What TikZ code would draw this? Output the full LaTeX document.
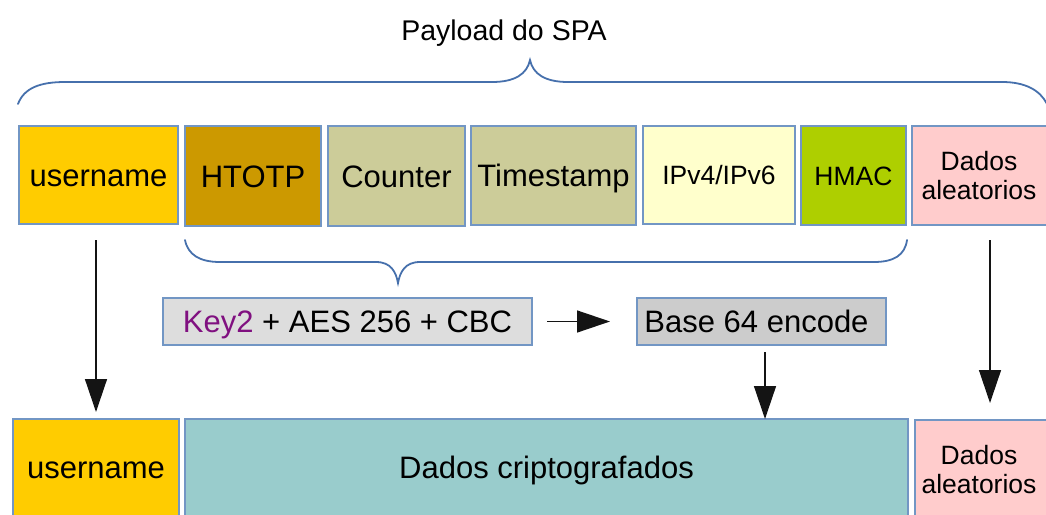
\documentclass[tikz,border=0pt]{standalone}
\usepackage{fontspec}
\setmainfont{Liberation Sans}
\usetikzlibrary{arrows.meta,calc}

\definecolor{cuser}{RGB}{255,204,0}
\definecolor{chotp}{RGB}{204,153,0}
\definecolor{ckhaki}{RGB}{204,204,153}
\definecolor{cip}{RGB}{255,255,204}
\definecolor{chmac}{RGB}{174,207,0}
\definecolor{crand}{RGB}{255,204,204}
\definecolor{ckey}{RGB}{221,221,221}
\definecolor{cb64}{RGB}{204,204,204}
\definecolor{ccrypt}{RGB}{153,204,204}
\definecolor{cborder}{RGB}{114,150,196}
\definecolor{cbrace}{RGB}{70,112,172}
\definecolor{keypurple}{RGB}{128,16,128}
\definecolor{carrow}{RGB}{20,20,20}

\begin{document}
\begin{tikzpicture}[x=1pt,y=-1pt,
  field/.style={draw=cborder,line width=1.3pt,inner sep=0pt,outer sep=0pt,
    align=center,font=\fontsize{31}{34}\selectfont},
  oneline/.style={text height=22.2pt,text depth=0pt},
  smalloneline/.style={text height=19pt,text depth=0pt},
  smallfield/.style={field,font=\fontsize{26.5}{29}\selectfont},
  brace/.style={draw=cbrace,line width=1.8pt,line cap=round},
  arr/.style={draw=carrow,line width=1.4pt,-{Triangle[length=33pt,width=22pt]}}]

\useasboundingbox (0,0) rectangle (1046,514);

% title and the brace over the whole payload
\node[font=\fontsize{28.5}{31}\selectfont,text height=20.4pt,text depth=0pt] (title) at (504,30) {Payload do SPA};
\draw[brace] (18,104) .. controls (24,88) and (40,82) .. (65,82) -- (492,82)
  .. controls (515,82) and (527,74) .. (530,60)
  .. controls (533,74) and (545,82) .. (568,82) -- (1002,82)
  .. controls (1025,82) and (1040,90) .. (1047,104);

% fields of the payload
\node[field,oneline,fill=cuser,minimum width=159pt,minimum height=98pt] (u1) at (98.5,175) {username};
\node[field,oneline,fill=chotp,minimum width=136pt,minimum height=100pt] (htotp) at (253,176) {HTOTP};
\node[field,oneline,fill=ckhaki,minimum width=137pt,minimum height=100pt] (ctr) at (396.5,176) {Counter};
\node[field,oneline,fill=ckhaki,minimum width=165pt,minimum height=99pt] (ts) at (553.5,175.5) {Timestamp};
\node[smallfield,smalloneline,fill=cip,minimum width=152pt,minimum height=98pt] (ip) at (719,175) {IPv4/IPv6};
\node[smallfield,smalloneline,fill=chmac,minimum width=105pt,minimum height=99pt] (hmac) at (853.5,175.5) {HMAC};
\node[smallfield,fill=crand,minimum width=140pt,minimum height=99pt,text width=134pt] (d1) at (982,175.5) {\hspace*{-6pt}Dados\\\hspace*{-6pt}aleatorios};

% brace under the encrypted fields
\draw[brace] (185,240) .. controls (188,255) and (200,262) .. (220,262) -- (376,262)
  .. controls (391,262) and (396,272) .. (398,283)
  .. controls (400,272) and (405,262) .. (420,262) -- (874,262)
  .. controls (894,262) and (905,255) .. (907,240);

% processing steps
\node[field,oneline,fill=ckey,minimum width=369pt,minimum height=47pt] (key) at (347.5,321.5)
  {{\color{keypurple}Key2} + AES 256 + CBC};
\node[field,oneline,fill=cb64,minimum width=249pt,minimum height=47pt] (b64) at (761.5,321.5)
  {\hspace*{-10pt}Base 64 encode};

% resulting packet
\node[field,oneline,fill=cuser,minimum width=166pt,minimum height=97pt] (u2) at (96,467.5) {username};
\node[field,oneline,fill=ccrypt,minimum width=723pt,minimum height=97pt] (crypt) at (546.5,467.5) {Dados criptografados};
\node[smallfield,fill=crand,minimum width=140pt,minimum height=100pt,text width=134pt] (d2) at (985,470) {\hspace*{-12pt}Dados\\\hspace*{-12pt}aleatorios};

% connectors
\coordinate (bx) at (765,0);
\coordinate (dx) at (990,0);
\draw[arr,shorten <=16pt,shorten >=7pt] (u1.south -| u2.north) -- (u2.north);
\draw[arr,shorten <=15pt,shorten >=27pt] (key.east) -- (b64.west);
\draw[arr,shorten <=7pt] (b64.south -| bx) -- (crypt.north -| bx);
\draw[arr,shorten <=15pt,shorten >=17pt] (d1.south -| dx) -- (d2.north -| dx);
\end{tikzpicture}
\end{document}
